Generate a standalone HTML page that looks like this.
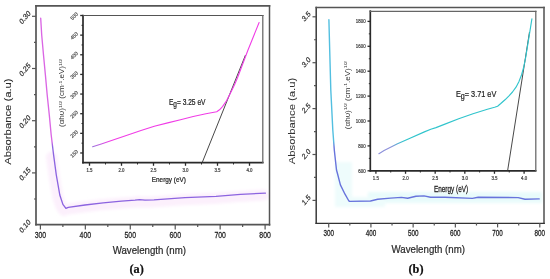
<!DOCTYPE html><html><head><meta charset="utf-8"><style>html,body{margin:0;padding:0;background:#fff;width:550px;height:279px;overflow:hidden}svg{display:block;will-change:transform}text{font-family:"Liberation Sans",sans-serif}</style></head><body>
<svg width="550" height="279" viewBox="0 0 550 279">
<defs><linearGradient id="gl" gradientUnits="userSpaceOnUse" x1="0" y1="141" x2="0" y2="147"><stop offset="0" stop-color="#da66e4"/><stop offset="1" stop-color="#8c64e0"/></linearGradient><linearGradient id="gli" gradientUnits="userSpaceOnUse" x1="0" y1="141" x2="0" y2="147"><stop offset="0" stop-color="#f03ce6"/><stop offset="1" stop-color="#9a78dc"/></linearGradient><linearGradient id="gr" gradientUnits="userSpaceOnUse" x1="0" y1="141" x2="0" y2="147"><stop offset="0" stop-color="#52bfe0"/><stop offset="1" stop-color="#6874dc"/></linearGradient><linearGradient id="gri" gradientUnits="userSpaceOnUse" x1="0" y1="141" x2="0" y2="147"><stop offset="0" stop-color="#30c4cc"/><stop offset="1" stop-color="#8c90da"/></linearGradient><filter id="bl" x="-20%" y="-20%" width="140%" height="140%"><feGaussianBlur stdDeviation="1.5"/></filter></defs>
<path d="M51.6,157 L54.3,177 L57.8,197 L60.9,206.4 L63.9,210.4 L66.3,209.4 L83,207 L101.2,204.8 L119.4,203.2 L133,202.2 L137.5,201.7 L143,202.1 L152,201.9 L183,199.7 L214,198.4 L238.5,196.4 L263.4,195.1" fill="none" stroke="#fcf0fc" stroke-width="11" stroke-linejoin="round" stroke-linecap="round" filter="url(#bl)"/>
<line x1="36" y1="5" x2="36" y2="225.6" stroke="#555" stroke-width="1.7"/>
<line x1="35.2" y1="5.9" x2="270.3" y2="5.9" stroke="#555" stroke-width="1.8"/>
<line x1="269.5" y1="5" x2="269.5" y2="225.6" stroke="#555" stroke-width="1.5"/>
<line x1="35.2" y1="224.7" x2="270.3" y2="224.7" stroke="#555" stroke-width="1.7"/>
<line x1="32" y1="16.3" x2="36" y2="16.3" stroke="#555" stroke-width="1.2"/>
<line x1="32" y1="68.5" x2="36" y2="68.5" stroke="#555" stroke-width="1.2"/>
<line x1="32" y1="120.7" x2="36" y2="120.7" stroke="#555" stroke-width="1.2"/>
<line x1="32" y1="172.9" x2="36" y2="172.9" stroke="#555" stroke-width="1.2"/>
<line x1="34" y1="42.4" x2="36" y2="42.4" stroke="#555" stroke-width="1.2"/>
<line x1="34" y1="94.6" x2="36" y2="94.6" stroke="#555" stroke-width="1.2"/>
<line x1="34" y1="146.8" x2="36" y2="146.8" stroke="#555" stroke-width="1.2"/>
<line x1="34" y1="199" x2="36" y2="199" stroke="#555" stroke-width="1.2"/>
<line x1="40.4" y1="224.7" x2="40.4" y2="229.4" stroke="#555" stroke-width="1.2"/>
<line x1="85.34" y1="224.7" x2="85.34" y2="229.4" stroke="#555" stroke-width="1.2"/>
<line x1="130.28" y1="224.7" x2="130.28" y2="229.4" stroke="#555" stroke-width="1.2"/>
<line x1="175.22" y1="224.7" x2="175.22" y2="229.4" stroke="#555" stroke-width="1.2"/>
<line x1="220.16" y1="224.7" x2="220.16" y2="229.4" stroke="#555" stroke-width="1.2"/>
<line x1="265.1" y1="224.7" x2="265.1" y2="229.4" stroke="#555" stroke-width="1.2"/>
<line x1="62.87" y1="224.7" x2="62.87" y2="227" stroke="#555" stroke-width="1.2"/>
<line x1="107.81" y1="224.7" x2="107.81" y2="227" stroke="#555" stroke-width="1.2"/>
<line x1="152.75" y1="224.7" x2="152.75" y2="227" stroke="#555" stroke-width="1.2"/>
<line x1="197.69" y1="224.7" x2="197.69" y2="227" stroke="#555" stroke-width="1.2"/>
<line x1="242.63" y1="224.7" x2="242.63" y2="227" stroke="#555" stroke-width="1.2"/>
<text transform="translate(40.4,237.6) scale(1,1.3)" font-size="6.9" text-anchor="middle" fill="#222" stroke="#222" stroke-width="0.2">300</text>
<text transform="translate(85.34,237.6) scale(1,1.3)" font-size="6.9" text-anchor="middle" fill="#222" stroke="#222" stroke-width="0.2">400</text>
<text transform="translate(130.28,237.6) scale(1,1.3)" font-size="6.9" text-anchor="middle" fill="#222" stroke="#222" stroke-width="0.2">500</text>
<text transform="translate(175.22,237.6) scale(1,1.3)" font-size="6.9" text-anchor="middle" fill="#222" stroke="#222" stroke-width="0.2">600</text>
<text transform="translate(220.16,237.6) scale(1,1.3)" font-size="6.9" text-anchor="middle" fill="#222" stroke="#222" stroke-width="0.2">700</text>
<text transform="translate(265.1,237.6) scale(1,1.3)" font-size="6.9" text-anchor="middle" fill="#222" stroke="#222" stroke-width="0.2">800</text>
<text transform="translate(31,13.8) scale(1,1.2) rotate(-45)" font-size="6.6" text-anchor="end" fill="#333" stroke="#333" stroke-width="0.2">0.30</text>
<text transform="translate(31,66) scale(1,1.2) rotate(-45)" font-size="6.6" text-anchor="end" fill="#333" stroke="#333" stroke-width="0.2">0.25</text>
<text transform="translate(31,118.2) scale(1,1.2) rotate(-45)" font-size="6.6" text-anchor="end" fill="#333" stroke="#333" stroke-width="0.2">0.20</text>
<text transform="translate(31,170.4) scale(1,1.2) rotate(-45)" font-size="6.6" text-anchor="end" fill="#333" stroke="#333" stroke-width="0.2">0.15</text>
<text transform="translate(31,222.6) scale(1,1.2) rotate(-45)" font-size="6.6" text-anchor="end" fill="#333" stroke="#333" stroke-width="0.2">0.10</text>
<text transform="translate(149.3,254) scale(1,1.22)" font-size="9.7" text-anchor="middle" fill="#2a2a2a" stroke="#2a2a2a" stroke-width="0.2">Wavelength (nm)</text>
<text transform="translate(10.6,121.6) scale(1,1.2) rotate(-90)" font-size="9.4" text-anchor="middle" fill="#282828" stroke="#282828" stroke-width="0.1">Absorbance (a.u)</text>
<text transform="translate(136.65,273.1) scale(1,1)" font-size="12.3" text-anchor="middle" fill="#111" stroke="#111" stroke-width="0.2" font-weight="bold" style="font-family:&quot;Liberation Serif&quot;,serif">(a)</text>
<line x1="83" y1="14.8" x2="83" y2="163.4" stroke="#2a2a2a" stroke-width="1.7"/>
<line x1="82.2" y1="162.6" x2="263.6" y2="162.6" stroke="#2a2a2a" stroke-width="1.7"/>
<line x1="82.2" y1="15.5" x2="263.6" y2="15.5" stroke="#555" stroke-width="1.2"/>
<line x1="262.8" y1="15" x2="262.8" y2="163" stroke="#666" stroke-width="1.25"/>
<line x1="80.2" y1="15.5" x2="83" y2="15.5" stroke="#2a2a2a" stroke-width="1.3"/>
<line x1="80.2" y1="35.14" x2="83" y2="35.14" stroke="#2a2a2a" stroke-width="1.3"/>
<line x1="80.2" y1="54.78" x2="83" y2="54.78" stroke="#2a2a2a" stroke-width="1.3"/>
<line x1="80.2" y1="74.42" x2="83" y2="74.42" stroke="#2a2a2a" stroke-width="1.3"/>
<line x1="80.2" y1="94.06" x2="83" y2="94.06" stroke="#2a2a2a" stroke-width="1.3"/>
<line x1="80.2" y1="113.7" x2="83" y2="113.7" stroke="#2a2a2a" stroke-width="1.3"/>
<line x1="80.2" y1="133.34" x2="83" y2="133.34" stroke="#2a2a2a" stroke-width="1.3"/>
<line x1="80.2" y1="152.98" x2="83" y2="152.98" stroke="#2a2a2a" stroke-width="1.3"/>
<line x1="81.5" y1="25.32" x2="83" y2="25.32" stroke="#2a2a2a" stroke-width="1"/>
<line x1="81.5" y1="44.96" x2="83" y2="44.96" stroke="#2a2a2a" stroke-width="1"/>
<line x1="81.5" y1="64.6" x2="83" y2="64.6" stroke="#2a2a2a" stroke-width="1"/>
<line x1="81.5" y1="84.24" x2="83" y2="84.24" stroke="#2a2a2a" stroke-width="1"/>
<line x1="81.5" y1="103.88" x2="83" y2="103.88" stroke="#2a2a2a" stroke-width="1"/>
<line x1="81.5" y1="123.52" x2="83" y2="123.52" stroke="#2a2a2a" stroke-width="1"/>
<line x1="81.5" y1="143.16" x2="83" y2="143.16" stroke="#2a2a2a" stroke-width="1"/>
<text transform="translate(74,16) scale(1,1.05) rotate(-42)" font-size="5" text-anchor="middle" fill="#555" stroke="#555" stroke-width="0.2" dominant-baseline="central">500</text>
<text transform="translate(74,35.64) scale(1,1.05) rotate(-42)" font-size="5" text-anchor="middle" fill="#555" stroke="#555" stroke-width="0.2" dominant-baseline="central">450</text>
<text transform="translate(74,55.28) scale(1,1.05) rotate(-42)" font-size="5" text-anchor="middle" fill="#555" stroke="#555" stroke-width="0.2" dominant-baseline="central">400</text>
<text transform="translate(74,74.92) scale(1,1.05) rotate(-42)" font-size="5" text-anchor="middle" fill="#555" stroke="#555" stroke-width="0.2" dominant-baseline="central">350</text>
<text transform="translate(74,94.56) scale(1,1.05) rotate(-42)" font-size="5" text-anchor="middle" fill="#555" stroke="#555" stroke-width="0.2" dominant-baseline="central">300</text>
<text transform="translate(74,114.2) scale(1,1.05) rotate(-42)" font-size="5" text-anchor="middle" fill="#555" stroke="#555" stroke-width="0.2" dominant-baseline="central">250</text>
<text transform="translate(74,133.84) scale(1,1.05) rotate(-42)" font-size="5" text-anchor="middle" fill="#555" stroke="#555" stroke-width="0.2" dominant-baseline="central">200</text>
<text transform="translate(74,153.48) scale(1,1.05) rotate(-42)" font-size="5" text-anchor="middle" fill="#555" stroke="#555" stroke-width="0.2" dominant-baseline="central">150</text>
<line x1="89.5" y1="162.6" x2="89.5" y2="165.8" stroke="#2a2a2a" stroke-width="1.3"/>
<line x1="121.5" y1="162.6" x2="121.5" y2="165.8" stroke="#2a2a2a" stroke-width="1.3"/>
<line x1="153.5" y1="162.6" x2="153.5" y2="165.8" stroke="#2a2a2a" stroke-width="1.3"/>
<line x1="185.5" y1="162.6" x2="185.5" y2="165.8" stroke="#2a2a2a" stroke-width="1.3"/>
<line x1="217.5" y1="162.6" x2="217.5" y2="165.8" stroke="#2a2a2a" stroke-width="1.3"/>
<line x1="249.5" y1="162.6" x2="249.5" y2="165.8" stroke="#2a2a2a" stroke-width="1.3"/>
<line x1="105.5" y1="162.6" x2="105.5" y2="164.5" stroke="#2a2a2a" stroke-width="1"/>
<line x1="137.5" y1="162.6" x2="137.5" y2="164.5" stroke="#2a2a2a" stroke-width="1"/>
<line x1="169.5" y1="162.6" x2="169.5" y2="164.5" stroke="#2a2a2a" stroke-width="1"/>
<line x1="201.5" y1="162.6" x2="201.5" y2="164.5" stroke="#2a2a2a" stroke-width="1"/>
<line x1="233.5" y1="162.6" x2="233.5" y2="164.5" stroke="#2a2a2a" stroke-width="1"/>
<text transform="translate(89.5,172.3) scale(1,1.2)" font-size="4.4" text-anchor="middle" fill="#444" stroke="#444" stroke-width="0.2">1.5</text>
<text transform="translate(121.5,172.3) scale(1,1.2)" font-size="4.4" text-anchor="middle" fill="#444" stroke="#444" stroke-width="0.2">2.0</text>
<text transform="translate(153.5,172.3) scale(1,1.2)" font-size="4.4" text-anchor="middle" fill="#444" stroke="#444" stroke-width="0.2">2.5</text>
<text transform="translate(185.5,172.3) scale(1,1.2)" font-size="4.4" text-anchor="middle" fill="#444" stroke="#444" stroke-width="0.2">3.0</text>
<text transform="translate(217.5,172.3) scale(1,1.2)" font-size="4.4" text-anchor="middle" fill="#444" stroke="#444" stroke-width="0.2">3.5</text>
<text transform="translate(249.5,172.3) scale(1,1.2)" font-size="4.4" text-anchor="middle" fill="#444" stroke="#444" stroke-width="0.2">4.0</text>
<text transform="translate(151.8,182.4) scale(1,1.22)" font-size="6.4" text-anchor="start" fill="#222" stroke="#222" stroke-width="0.2">Energy (eV)</text>
<text transform="translate(64,92.9) scale(1,1.2) rotate(-90)" font-size="6.7" text-anchor="middle" fill="#333">(&#945;h&#965;)<tspan dy="-2.4" font-size="4.3">1/2</tspan><tspan dy="2.4"> (cm</tspan><tspan dy="-2.4" font-size="4.3">-1</tspan><tspan dy="2.4">.eV)</tspan><tspan dy="-2.4" font-size="4.3">1/2</tspan></text>
<line x1="202.2" y1="162.6" x2="245.5" y2="55" stroke="#333" stroke-width="0.9"/>
<path d="M92.6,146.8 L101.3,143.9 L114.5,139.5 L127.8,134.9 L141,130.6 L154.3,126.3 L167.7,122.9 L180.5,119.7 L193.2,116.5 L205.9,113.7 L216.7,111.8 L219.5,109.8 L222.5,106.6 L226.5,100.8 L230.5,93 L234.4,85 L237.6,77.5 L248,50 L259.1,22.5" fill="none" stroke="url(#gli)" stroke-width="1.1" stroke-linejoin="round" stroke-linecap="round"/>
<text transform="translate(168.9,105.1) scale(0.85,1.2)" font-size="7.8" fill="#222" stroke="#222" stroke-width="0.2">E<tspan dy="1.6" font-size="7.6">g</tspan><tspan dy="-1.6">= 3.25 eV</tspan></text>
<path d="M40.7,18.2 L41.7,35 L43.5,55 L45.4,75 L47.2,95 L49.3,115 L51.2,135 L53.6,155 L56.3,175 L59.8,195 L62.9,204.4 L65.9,208.4 L68.3,207.4 L85,205 L103.2,202.8 L121.4,201.2 L135,200.2 L139.5,199.7 L145,200.1 L154,199.9 L185,197.7 L216,196.4 L240.5,194.4 L265.4,193.1" fill="none" stroke="url(#gl)" stroke-width="1.35" stroke-linejoin="round" stroke-linecap="round"/>
<g filter="url(#bl)"><rect x="368" y="192" width="174" height="11" fill="#e8fbfb"/><rect x="335" y="162" width="17" height="45" fill="#eefcfc"/><rect x="345" y="197" width="40" height="10" fill="#eefcfc"/></g>
<line x1="316.2" y1="6.8" x2="316.2" y2="224" stroke="#333" stroke-width="1.45"/>
<line x1="315.5" y1="7.5" x2="544.8" y2="7.5" stroke="#555" stroke-width="1.6"/>
<line x1="544" y1="6.8" x2="544" y2="224" stroke="#5a5a5a" stroke-width="1.6"/>
<line x1="315.5" y1="223.4" x2="544.8" y2="223.4" stroke="#333" stroke-width="1.35"/>
<line x1="312.5" y1="16.8" x2="316" y2="16.8" stroke="#555" stroke-width="1.2"/>
<line x1="312.5" y1="62.7" x2="316" y2="62.7" stroke="#555" stroke-width="1.2"/>
<line x1="312.5" y1="108.6" x2="316" y2="108.6" stroke="#555" stroke-width="1.2"/>
<line x1="312.5" y1="154.5" x2="316" y2="154.5" stroke="#555" stroke-width="1.2"/>
<line x1="312.5" y1="200.4" x2="316" y2="200.4" stroke="#555" stroke-width="1.2"/>
<line x1="314" y1="39.75" x2="316" y2="39.75" stroke="#555" stroke-width="1.2"/>
<line x1="314" y1="85.65" x2="316" y2="85.65" stroke="#555" stroke-width="1.2"/>
<line x1="314" y1="131.55" x2="316" y2="131.55" stroke="#555" stroke-width="1.2"/>
<line x1="314" y1="177.45" x2="316" y2="177.45" stroke="#555" stroke-width="1.2"/>
<line x1="328.7" y1="223.2" x2="328.7" y2="227.4" stroke="#555" stroke-width="1.2"/>
<line x1="370.92" y1="223.2" x2="370.92" y2="227.4" stroke="#555" stroke-width="1.2"/>
<line x1="413.14" y1="223.2" x2="413.14" y2="227.4" stroke="#555" stroke-width="1.2"/>
<line x1="455.36" y1="223.2" x2="455.36" y2="227.4" stroke="#555" stroke-width="1.2"/>
<line x1="497.58" y1="223.2" x2="497.58" y2="227.4" stroke="#555" stroke-width="1.2"/>
<line x1="539.8" y1="223.2" x2="539.8" y2="227.4" stroke="#555" stroke-width="1.2"/>
<line x1="349.81" y1="223.2" x2="349.81" y2="225.5" stroke="#555" stroke-width="1.2"/>
<line x1="392.03" y1="223.2" x2="392.03" y2="225.5" stroke="#555" stroke-width="1.2"/>
<line x1="434.25" y1="223.2" x2="434.25" y2="225.5" stroke="#555" stroke-width="1.2"/>
<line x1="476.47" y1="223.2" x2="476.47" y2="225.5" stroke="#555" stroke-width="1.2"/>
<line x1="518.69" y1="223.2" x2="518.69" y2="225.5" stroke="#555" stroke-width="1.2"/>
<text transform="translate(328.7,236.3) scale(1,1.45)" font-size="6.3" text-anchor="middle" fill="#222" stroke="#222" stroke-width="0.2">300</text>
<text transform="translate(370.92,236.3) scale(1,1.45)" font-size="6.3" text-anchor="middle" fill="#222" stroke="#222" stroke-width="0.2">400</text>
<text transform="translate(413.14,236.3) scale(1,1.45)" font-size="6.3" text-anchor="middle" fill="#222" stroke="#222" stroke-width="0.2">500</text>
<text transform="translate(455.36,236.3) scale(1,1.45)" font-size="6.3" text-anchor="middle" fill="#222" stroke="#222" stroke-width="0.2">600</text>
<text transform="translate(497.58,236.3) scale(1,1.45)" font-size="6.3" text-anchor="middle" fill="#222" stroke="#222" stroke-width="0.2">700</text>
<text transform="translate(539.8,236.3) scale(1,1.45)" font-size="6.3" text-anchor="middle" fill="#222" stroke="#222" stroke-width="0.2">800</text>
<text transform="translate(311,14.3) scale(1,1.2) rotate(-45)" font-size="6.6" text-anchor="end" fill="#333" stroke="#333" stroke-width="0.2">3.5</text>
<text transform="translate(311,60.2) scale(1,1.2) rotate(-45)" font-size="6.6" text-anchor="end" fill="#333" stroke="#333" stroke-width="0.2">3.0</text>
<text transform="translate(311,106.1) scale(1,1.2) rotate(-45)" font-size="6.6" text-anchor="end" fill="#333" stroke="#333" stroke-width="0.2">2.5</text>
<text transform="translate(311,152) scale(1,1.2) rotate(-45)" font-size="6.6" text-anchor="end" fill="#333" stroke="#333" stroke-width="0.2">2.0</text>
<text transform="translate(311,197.9) scale(1,1.2) rotate(-45)" font-size="6.6" text-anchor="end" fill="#333" stroke="#333" stroke-width="0.2">1.5</text>
<text transform="translate(428.25,252.5) scale(1,1.22)" font-size="9.7" text-anchor="middle" fill="#2a2a2a" stroke="#2a2a2a" stroke-width="0.2">Wavelength (nm)</text>
<text transform="translate(295,121) scale(1,1.2) rotate(-90)" font-size="9.4" text-anchor="middle" fill="#333" stroke="#333" stroke-width="0.05">Absorbance (a.u)</text>
<text transform="translate(416,273) scale(1,1)" font-size="12.3" text-anchor="middle" fill="#111" stroke="#111" stroke-width="0.2" font-weight="bold" style="font-family:&quot;Liberation Serif&quot;,serif">(b)</text>
<line x1="370.3" y1="10.3" x2="370.3" y2="171.6" stroke="#2a2a2a" stroke-width="1.7"/>
<line x1="369.5" y1="170.8" x2="536.5" y2="170.8" stroke="#2a2a2a" stroke-width="1.7"/>
<line x1="369.5" y1="11.4" x2="536.5" y2="11.4" stroke="#666" stroke-width="1.3"/>
<line x1="535.8" y1="10.8" x2="535.8" y2="171" stroke="#666" stroke-width="1.25"/>
<line x1="367.5" y1="21.4" x2="370.3" y2="21.4" stroke="#2a2a2a" stroke-width="1.3"/>
<line x1="367.5" y1="46.3" x2="370.3" y2="46.3" stroke="#2a2a2a" stroke-width="1.3"/>
<line x1="367.5" y1="71.2" x2="370.3" y2="71.2" stroke="#2a2a2a" stroke-width="1.3"/>
<line x1="367.5" y1="96.1" x2="370.3" y2="96.1" stroke="#2a2a2a" stroke-width="1.3"/>
<line x1="367.5" y1="121" x2="370.3" y2="121" stroke="#2a2a2a" stroke-width="1.3"/>
<line x1="367.5" y1="145.9" x2="370.3" y2="145.9" stroke="#2a2a2a" stroke-width="1.3"/>
<line x1="367.5" y1="170.8" x2="370.3" y2="170.8" stroke="#2a2a2a" stroke-width="1.3"/>
<line x1="368.8" y1="33.85" x2="370.3" y2="33.85" stroke="#2a2a2a" stroke-width="1"/>
<line x1="368.8" y1="58.75" x2="370.3" y2="58.75" stroke="#2a2a2a" stroke-width="1"/>
<line x1="368.8" y1="83.65" x2="370.3" y2="83.65" stroke="#2a2a2a" stroke-width="1"/>
<line x1="368.8" y1="108.55" x2="370.3" y2="108.55" stroke="#2a2a2a" stroke-width="1"/>
<line x1="368.8" y1="133.45" x2="370.3" y2="133.45" stroke="#2a2a2a" stroke-width="1"/>
<line x1="368.8" y1="158.35" x2="370.3" y2="158.35" stroke="#2a2a2a" stroke-width="1"/>
<text transform="translate(365.6,23.2) scale(1,1.2)" font-size="4.4" text-anchor="end" fill="#444" stroke="#444" stroke-width="0.2">1800</text>
<text transform="translate(365.6,48.1) scale(1,1.2)" font-size="4.4" text-anchor="end" fill="#444" stroke="#444" stroke-width="0.2">1600</text>
<text transform="translate(365.6,73) scale(1,1.2)" font-size="4.4" text-anchor="end" fill="#444" stroke="#444" stroke-width="0.2">1400</text>
<text transform="translate(365.6,97.9) scale(1,1.2)" font-size="4.4" text-anchor="end" fill="#444" stroke="#444" stroke-width="0.2">1200</text>
<text transform="translate(365.6,122.8) scale(1,1.2)" font-size="4.4" text-anchor="end" fill="#444" stroke="#444" stroke-width="0.2">1000</text>
<text transform="translate(365.6,147.7) scale(1,1.2)" font-size="4.4" text-anchor="end" fill="#444" stroke="#444" stroke-width="0.2">800</text>
<text transform="translate(365.6,172.6) scale(1,1.2)" font-size="4.4" text-anchor="end" fill="#444" stroke="#444" stroke-width="0.2">600</text>
<line x1="375.9" y1="170.8" x2="375.9" y2="173.8" stroke="#2a2a2a" stroke-width="1.3"/>
<line x1="405.54" y1="170.8" x2="405.54" y2="173.8" stroke="#2a2a2a" stroke-width="1.3"/>
<line x1="435.18" y1="170.8" x2="435.18" y2="173.8" stroke="#2a2a2a" stroke-width="1.3"/>
<line x1="464.82" y1="170.8" x2="464.82" y2="173.8" stroke="#2a2a2a" stroke-width="1.3"/>
<line x1="494.46" y1="170.8" x2="494.46" y2="173.8" stroke="#2a2a2a" stroke-width="1.3"/>
<line x1="524.1" y1="170.8" x2="524.1" y2="173.8" stroke="#2a2a2a" stroke-width="1.3"/>
<line x1="390.72" y1="170.8" x2="390.72" y2="172.5" stroke="#2a2a2a" stroke-width="1"/>
<line x1="420.36" y1="170.8" x2="420.36" y2="172.5" stroke="#2a2a2a" stroke-width="1"/>
<line x1="450" y1="170.8" x2="450" y2="172.5" stroke="#2a2a2a" stroke-width="1"/>
<line x1="479.64" y1="170.8" x2="479.64" y2="172.5" stroke="#2a2a2a" stroke-width="1"/>
<line x1="509.28" y1="170.8" x2="509.28" y2="172.5" stroke="#2a2a2a" stroke-width="1"/>
<text transform="translate(375.9,180) scale(1,1.2)" font-size="4.4" text-anchor="middle" fill="#444" stroke="#444" stroke-width="0.2">1.5</text>
<text transform="translate(405.54,180) scale(1,1.2)" font-size="4.4" text-anchor="middle" fill="#444" stroke="#444" stroke-width="0.2">2.0</text>
<text transform="translate(435.18,180) scale(1,1.2)" font-size="4.4" text-anchor="middle" fill="#444" stroke="#444" stroke-width="0.2">2.5</text>
<text transform="translate(464.82,180) scale(1,1.2)" font-size="4.4" text-anchor="middle" fill="#444" stroke="#444" stroke-width="0.2">3.0</text>
<text transform="translate(494.46,180) scale(1,1.2)" font-size="4.4" text-anchor="middle" fill="#444" stroke="#444" stroke-width="0.2">3.5</text>
<text transform="translate(524.1,180) scale(1,1.2)" font-size="4.4" text-anchor="middle" fill="#444" stroke="#444" stroke-width="0.2">4.0</text>
<text transform="translate(434,191.9) scale(1,1.32)" font-size="6.4" text-anchor="start" fill="#222" stroke="#222" stroke-width="0.2">Energy (eV)</text>
<text transform="translate(349.6,95.1) scale(1,1.2) rotate(-90)" font-size="6.7" text-anchor="middle" fill="#333">(&#945;h&#965;)<tspan dy="-2.4" font-size="4.3">1/2</tspan><tspan dy="2.4"> (cm</tspan><tspan dy="-2.4" font-size="4.3">-1</tspan><tspan dy="2.4">.eV)</tspan><tspan dy="-2.4" font-size="4.3">1/2</tspan></text>
<line x1="507.6" y1="170.8" x2="529.5" y2="32" stroke="#333" stroke-width="0.9"/>
<path d="M378.9,153.7 L384.1,150.5 L397,144 L408.3,138.9 L424.4,131.9 L430.8,129.2 L436,127.6 L444.3,124.4 L458.7,118.7 L473,113.7 L487.4,109.3 L494.6,107.2 L497.6,106.2 L500.5,103.8 L505,99.8 L509,95.8 L512.5,92 L516,87.2 L519,81.4 L521.5,75 L523.5,68 L525.6,58 L531.9,18.8" fill="none" stroke="url(#gri)" stroke-width="1.15" stroke-linejoin="round" stroke-linecap="round"/>
<text transform="translate(455.9,96.8) scale(0.94,1.2)" font-size="7.8" fill="#222" stroke="#222" stroke-width="0.2">E<tspan dy="2" font-size="7.6">g</tspan><tspan dy="-2">= 3.71 eV</tspan></text>
<path d="M328.9,19.7 L329.7,50 L330.8,90 L332.8,130 L334.3,150 L336.5,170 L337.4,173.3 L340.4,184.9 L345,194.2 L348.6,200.5 L349.5,201.4 L370.5,201 L377.7,199.2 L390.5,198.1 L401.4,197.4 L407.7,198.3 L415.9,196.3 L424,195.9 L430.5,197.2 L445,197.2 L472.4,198.4 L478.2,197.2 L518.2,197.6 L525,199.3 L539.2,198.9" fill="none" stroke="url(#gr)" stroke-width="1.4" stroke-linejoin="round" stroke-linecap="round"/>
</svg></body></html>
